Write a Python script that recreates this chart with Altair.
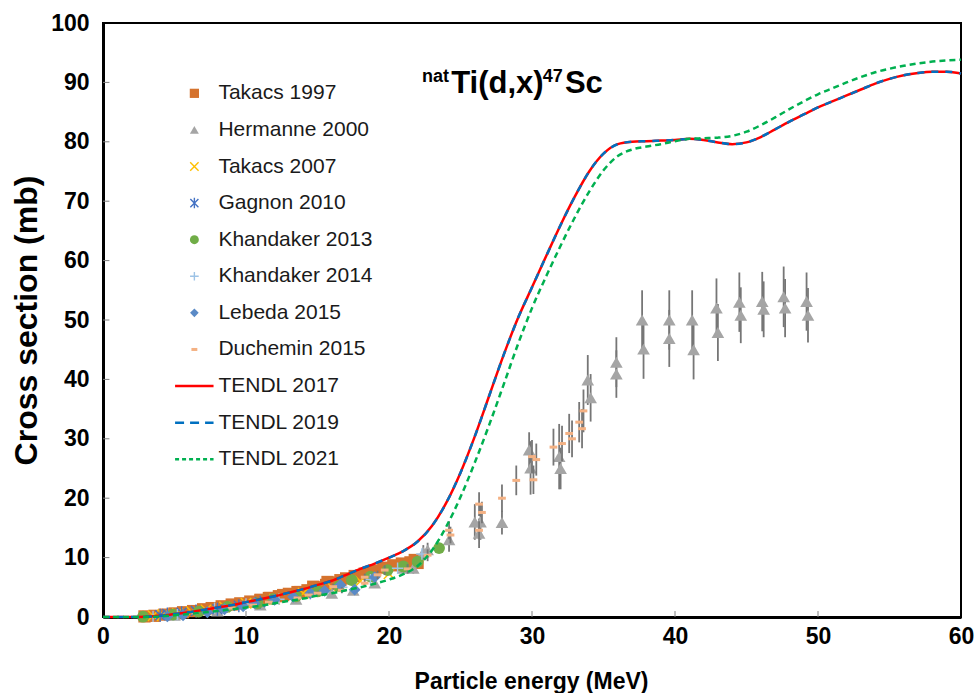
import altair as alt
import pandas as pd

# ---------------- data ----------------
tendl_e = list(range(0, 61))
tendl2017 = [0, 0, 0, 0.05, 0.2, 0.5, 0.8, 1.2, 1.6, 2.0,
             2.5, 3.0, 3.5, 4.1, 4.7, 5.4, 6.1, 7.1, 8.1, 9.0,
             10.0, 11.1, 12.7, 15.3, 19.2, 24.3, 30.4, 37.2, 44.0, 50.2,
             55.5, 60.8, 66.0, 70.8, 75.0, 78.0, 79.6, 80.0, 80.1, 80.2,
             80.3, 80.5, 80.3, 79.9, 79.6, 79.9, 80.8, 82.1, 83.4, 84.6,
             85.8, 86.8, 87.8, 88.8, 89.8, 90.6, 91.2, 91.6, 91.8, 91.8, 91.5]
tendl2019 = [0, 0, 0, 0.05, 0.2, 0.5, 0.8, 1.2, 1.6, 2.0,
             2.5, 3.0, 3.5, 4.1, 4.7, 5.4, 6.1, 7.1, 8.1, 9.0,
             10.0, 11.1, 12.7, 15.3, 19.2, 24.3, 30.4, 37.2, 44.0, 50.2,
             55.5, 60.8, 66.0, 70.8, 75.0, 78.0, 79.6, 80.0, 80.1, 80.2,
             80.3, 80.5, 80.3, 79.9, 79.6, 79.9, 80.8, 82.1, 83.4, 84.6,
             85.8, 86.8, 87.8, 88.8, 89.8, 90.6, 91.2, 91.6, 91.8, 91.8, 91.5]
tendl2021 = [0, 0, 0, 0.02, 0.1, 0.3, 0.5, 0.75, 1.0, 1.3,
             1.6, 1.9, 2.3, 2.7, 3.1, 3.6, 4.0, 4.5, 5.0, 5.6,
             6.3, 7.2, 8.6, 11.2, 15.2, 20.2, 26.0, 32.3, 39.0, 45.8,
             52.0, 57.4, 62.5, 67.3, 71.6, 75.2, 77.6, 78.7, 79.2, 79.6,
             80.1, 80.5, 80.6, 80.7, 81.0, 81.7, 82.8, 84.1, 85.5, 86.8,
             88.0, 89.0, 90.0, 90.9, 91.7, 92.3, 92.8, 93.2, 93.5, 93.7, 93.8]

takacs1997_e = [2.9, 3.6, 4.3, 5.0, 5.6, 6.3, 7.0, 7.6, 8.3, 9.0, 9.6, 10.3, 11.0, 11.6, 11.7,
                12.3, 12.6, 13.0, 13.6, 13.8, 14.3, 14.7, 15.0, 15.6, 15.7, 16.3, 16.6, 17.0,
                17.6, 18.3, 18.7, 19.0, 19.6, 20.3, 20.9, 21.5, 21.8, 22.0]
takacs1997_s = [0.1, 0.2, 0.4, 0.6, 0.8, 1.0, 1.3, 1.5, 1.8, 2.1, 2.3, 2.6, 2.9, 3.2, 3.2,
                3.5, 3.7, 3.9, 4.2, 4.2, 4.5, 5.1, 5.0, 5.4, 5.9, 5.8, 6.2, 6.5,
                6.9, 7.3, 7.4, 7.8, 8.3, 8.7, 9.0, 9.2, 9.6, 9.1]

hermanne_e = [5.0, 8.0, 11.0, 13.5, 16.0, 17.5, 19.0, 21.0, 21.7, 22.4, 22.7, 24.2,
              26.0, 26.3, 26.4, 27.9, 29.8, 29.9, 31.9, 32.0, 33.9, 34.1, 35.9, 35.9,
              37.7, 37.8, 39.6, 39.6, 41.2, 41.3, 42.9, 43.0, 44.5, 44.6, 46.1, 46.2,
              47.6, 47.7, 49.2, 49.3]
hermanne_s = [0.3, 1.0, 2.0, 3.0, 4.0, 4.5, 5.7, 8.2, 8.2, 10.9, 11.3, 13.0,
              16.0, 14.1, 16.0, 15.9, 28.1, 25.1, 27.0, 25.0, 39.9, 36.9, 42.9, 40.9,
              50.0, 45.1, 50.0, 46.9, 50.0, 45.0, 52.0, 47.9, 53.0, 50.8, 53.1, 51.8,
              53.9, 52.0, 53.1, 50.8]
hermanne_err = [0.1, 0.2, 0.3, 0.4, 0.5, 0.5, 0.6, 0.9, 0.9, 1.2, 1.2, 2.0,
                3.0, 2.5, 3.0, 2.0, 3.0, 4.5, 5.5, 3.5, 4.2, 4.0, 4.2, 4.0,
                5.0, 5.0, 5.0, 4.8, 5.0, 5.0, 5.0, 4.8, 5.0, 4.7, 5.0, 4.7,
                5.1, 4.9, 4.9, 4.6]

takacs2007_e = [3.5, 4.2, 5.2, 6.2, 7.2, 8.5, 10.0, 12.0, 14.0, 16.0, 18.0, 20.0]
takacs2007_s = [0.2, 0.4, 0.6, 0.9, 1.2, 1.7, 2.3, 3.0, 4.0, 5.0, 6.0, 7.3]

gagnon_e = [4.0, 4.5, 5.5, 6.5, 8.0, 9.5, 11.0]
gagnon_s = [0.3, 0.5, 0.7, 1.0, 1.3, 1.9, 2.5]

khandaker2013_e = [2.8, 4.9, 6.7, 8.7, 10.8, 11.9, 13.5, 15.0, 16.5, 17.4, 18.7, 19.9, 21.0, 22.0, 23.5]
khandaker2013_s = [0.05, 0.4, 0.9, 1.7, 2.3, 3.0, 3.5, 4.3, 5.2, 6.2, 6.8, 7.9, 8.5, 9.3, 11.6]

khandaker2014_e = [3.5, 5.2, 7.8, 10.0, 12.3, 14.5, 16.7, 18.7, 20.6, 22.3]
khandaker2014_s = [0.1, 0.4, 1.5, 2.2, 3.0, 3.9, 5.0, 6.3, 8.2, 10.6]

lebeda_e = [4.5, 5.6, 7.3, 8.5, 9.8, 10.6, 12.0, 13.3, 14.5, 15.5, 16.6, 17.6, 19.0]
lebeda_s = [0.1, 0.3, 0.8, 1.3, 1.8, 2.3, 2.9, 3.4, 4.0, 4.4, 5.4, 4.6, 6.7]

duchemin_e = [6.4, 9.0, 10.5, 11.6, 13.6, 14.4, 15.0, 16.1, 16.7, 18.3, 18.3, 19.2, 19.7,
              21.3, 22.7, 24.2, 24.3, 26.3, 26.5, 26.3, 27.9, 28.9, 30.0, 30.3, 30.1,
              31.5, 32.1, 32.6, 32.8, 33.3, 33.5, 33.6]
duchemin_s = [0.7, 1.5, 2.0, 2.5, 3.2, 3.7, 4.0, 5.1, 4.5, 5.7, 6.7, 7.1, 7.9,
              8.1, 10.4, 14.6, 13.8, 19.0, 17.6, 14.6, 20.0, 23.0, 27.0, 26.5, 23.1,
              28.6, 29.2, 30.9, 30.0, 32.8, 31.7, 34.7]
duchemin_err = [0.1, 0.2, 0.2, 0.3, 0.3, 0.4, 0.4, 0.5, 0.5, 0.6, 0.6, 0.7, 0.8,
                0.8, 1.0, 1.5, 1.4, 2.0, 1.8, 1.5, 2.3, 2.5, 2.8, 2.7, 2.4,
                3.1, 3.0, 3.3, 3.1, 3.4, 3.3, 3.6]

legend_names = ["Takacs 1997", "Hermanne 2000", "Takacs 2007", "Gagnon 2010",
                "Khandaker 2013", "Khandaker 2014", "Lebeda 2015", "Duchemin 2015",
                "TENDL 2017", "TENDL 2019", "TENDL 2021"]

xticks = [0, 10, 20, 30, 40, 50, 60]
yticks = [0, 10, 20, 30, 40, 50, 60, 70, 80, 90, 100]

FONT = "Liberation Sans"

# ---------------- scales / axes ----------------
xs = alt.Scale(domain=[0, 60], nice=False, zero=False)
ys = alt.Scale(domain=[0, 100], nice=False, zero=False)
xaxis = alt.Axis(values=xticks, title="Particle energy (MeV)", labelPadding=8,
                 labelFlush=False, labelOverlap=False,
                 titleFontSize=23, titleX=428, titleY=71, titleAlign="center",
                 titleBaseline="alphabetic")
yaxis = alt.Axis(values=yticks, title="Cross section (mb)", labelPadding=14,
                 labelOverlap=False,
                 titleFontSize=32, titleAngle=270, titleX=-77, titleY=297,
                 titleAlign="center", titleBaseline="middle")


def X(f="E"):
    return alt.X(f, type="quantitative", scale=xs, axis=xaxis)


def Y(f="S"):
    return alt.Y(f, type="quantitative", scale=ys, axis=yaxis)


def pts(e, s, **mk):
    df = pd.DataFrame({"E": e, "S": s})
    return alt.Chart(df).mark_point(opacity=1, **mk).encode(x=X(), y=Y())


def errs(e, s, err, color):
    df = pd.DataFrame({"E": e, "lo": [a - b for a, b in zip(s, err)],
                       "hi": [a + b for a, b in zip(s, err)]})
    return alt.Chart(df).mark_rule(color=color, strokeWidth=1.8).encode(
        x=X(), y=Y("lo"), y2=alt.Y2("hi"))


def line(vals, **mk):
    df = pd.DataFrame({"E": tendl_e, "S": vals})
    return alt.Chart(df).mark_line(interpolate="monotone", strokeWidth=2.5, **mk).encode(x=X(), y=Y())


XSHAPE = "M-1,-1L1,1M-1,1L1,-1"
ASTER = "M-1,-1L1,1M-1,1L1,-1M0,-1.3L0,1.3"
PLUS = "M-1,0L1,0M0,-1L0,1"
DASH = "M-1,0L1,0"

styles = {
    "Takacs 1997": dict(shape="square", filled=True, color="#D5732E"),
    "Hermanne 2000": dict(shape="triangle-up", filled=True, color="#A5A5A5"),
    "Takacs 2007": dict(shape=XSHAPE, filled=False, color="#FFC000", strokeWidth=1.4),
    "Gagnon 2010": dict(shape=ASTER, filled=False, color="#4472C4", strokeWidth=1.4),
    "Khandaker 2013": dict(shape="circle", filled=True, color="#70AD47"),
    "Khandaker 2014": dict(shape=PLUS, filled=False, color="#9DC3E6", strokeWidth=1.4),
    "Lebeda 2015": dict(shape="diamond", filled=True, color="#5A8AC6"),
    "Duchemin 2015": dict(shape=DASH, filled=False, color="#F4B183", strokeWidth=3),
}
sizes = {"Takacs 1997": 150, "Hermanne 2000": 160, "Takacs 2007": 110, "Gagnon 2010": 100,
         "Khandaker 2013": 140, "Khandaker 2014": 130, "Lebeda 2015": 140, "Duchemin 2015": 60}
lsizes = {"Takacs 1997": 85, "Hermanne 2000": 80, "Takacs 2007": 70, "Gagnon 2010": 65,
          "Khandaker 2013": 80, "Khandaker 2014": 75, "Lebeda 2015": 75, "Duchemin 2015": 35}

layers = [
    pts(takacs1997_e, takacs1997_s, size=sizes["Takacs 1997"], **styles["Takacs 1997"]),
    errs(hermanne_e, hermanne_s, hermanne_err, "#767676"),
    pts(hermanne_e, hermanne_s, size=sizes["Hermanne 2000"], **styles["Hermanne 2000"]),
    pts(takacs2007_e, takacs2007_s, size=sizes["Takacs 2007"], **styles["Takacs 2007"]),
    pts(gagnon_e, gagnon_s, size=sizes["Gagnon 2010"], **styles["Gagnon 2010"]),
    pts(khandaker2013_e, khandaker2013_s, size=sizes["Khandaker 2013"], **styles["Khandaker 2013"]),
    pts(khandaker2014_e, khandaker2014_s, size=sizes["Khandaker 2014"], **styles["Khandaker 2014"]),
    pts(lebeda_e, lebeda_s, size=sizes["Lebeda 2015"], **styles["Lebeda 2015"]),
    errs(duchemin_e, duchemin_s, duchemin_err, "#767676"),
    pts(duchemin_e, duchemin_s, size=sizes["Duchemin 2015"], **styles["Duchemin 2015"]),
    line(tendl2017, color="#FF0000"),
    line(tendl2019, color="#0070C0", strokeDash=[7, 7]),
    line(tendl2021, color="#00B050", strokeDash=[6, 4]),
]

# inside tick marks
xt = pd.DataFrame({"E": xticks[1:-1], "lo": [0] * 5, "hi": [1.0] * 5})
layers.append(alt.Chart(xt).mark_rule(color="#808080", strokeWidth=1).encode(
    x=X(), y=Y("lo"), y2=alt.Y2("hi")))
yt = pd.DataFrame({"S": yticks[1:-1], "lo": [0] * 9, "hi": [0.45] * 9})
layers.append(alt.Chart(yt).mark_rule(color="#808080", strokeWidth=1).encode(
    y=Y(), x=X("lo"), x2=alt.X2("hi")))

# ---------------- legend (inside the plot) ----------------
row0, step = 88.16, 6.16
sym_x, txt_x, l1, l2 = 6.39, 8.07, 5.04, 7.73
leg_rows = {n: row0 - i * step for i, n in enumerate(legend_names)}
for n in legend_names[:8]:
    layers.append(pts([sym_x], [leg_rows[n]], size=lsizes[n], **styles[n]))
for n, c, d in [("TENDL 2017", "#FF0000", None), ("TENDL 2019", "#0070C0", [9, 6]),
                ("TENDL 2021", "#00B050", [4, 3])]:
    df = pd.DataFrame({"E": [l1], "E2": [l2], "S": [leg_rows[n]]})
    mk = dict(color=c, strokeWidth=2.5)
    if d:
        mk["strokeDash"] = d
    layers.append(alt.Chart(df).mark_rule(**mk).encode(x=X(), x2=alt.X2("E2"), y=Y()))
ldf = pd.DataFrame({"E": [txt_x] * len(legend_names),
                    "S": [leg_rows[n] for n in legend_names], "T": legend_names})
layers.append(alt.Chart(ldf).mark_text(align="left", baseline="middle", font=FONT,
                                       fontSize=21, color="#1a1a1a").encode(
    x=X(), y=Y(), text="T:N"))

# ---------------- reaction label ----------------
ann = [("nat", 22.3, 90.07, 18), ("Ti(d,x)", 24.35, 88.22, 31),
       ("47", 30.75, 90.07, 18), ("Sc", 32.3, 88.22, 31)]
for t, e, s, fs in ann:
    df = pd.DataFrame({"E": [e], "S": [s], "T": [t]})
    layers.append(alt.Chart(df).mark_text(align="left", baseline="alphabetic", font=FONT,
                                          fontSize=fs, fontWeight="bold", color="black").encode(
        x=X(), y=Y(), text="T:N"))

chart = alt.layer(*layers).properties(
    width=858, height=594,
    autosize=alt.AutoSizeParams(type="none"),
    padding={"left": 103, "top": 23, "right": 13, "bottom": 76},
).configure_view(stroke="black", strokeWidth=2).configure_axis(
    domainColor="black", domainWidth=3, ticks=False, grid=False,
    labelFont=FONT, labelFontSize=23, labelFontWeight="bold", labelColor="black",
    titleFont=FONT, titleFontWeight="bold", titleColor="black",
)

chart.save("out.html", embed_options={"renderer": "svg", "actions": False})
